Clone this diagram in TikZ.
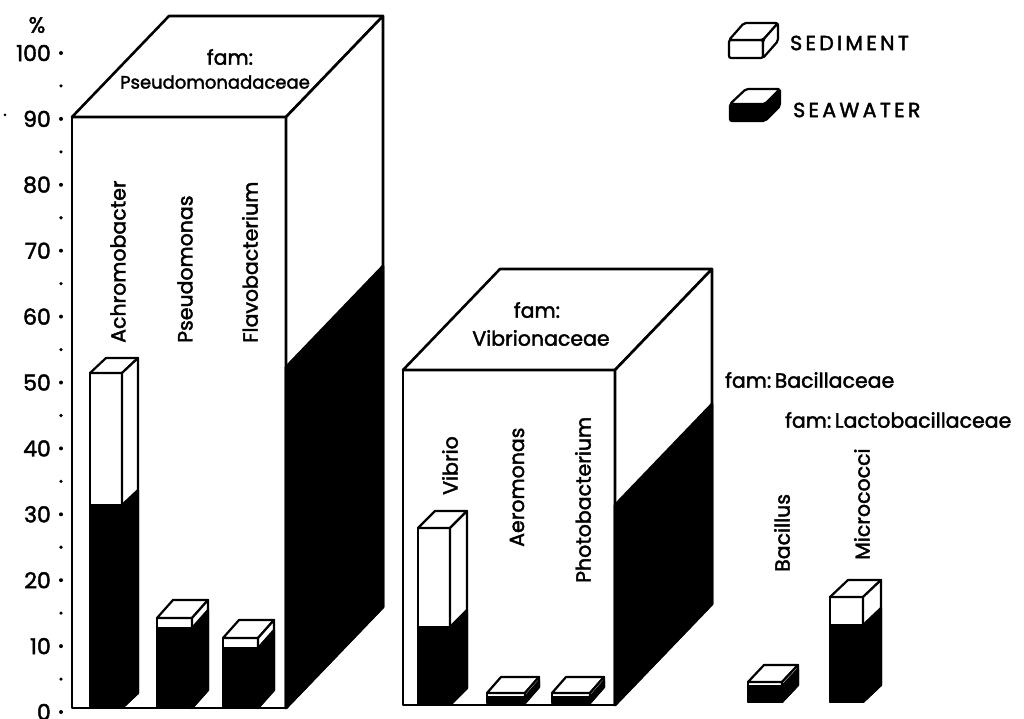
\documentclass[tikz,border=0pt]{standalone}
\usepackage{fontspec}
\setmainfont{Poppins}[FakeBold=2]
\newcommand\cbar[7]{% left,right,bottom,sedtop,seatop,dx,dy
  \filldraw[thinln,fill=white] (#1,#3) rectangle (#2,#4);
  \filldraw[thinln,fill=white] (#1,#4) -- ({#1+#6},{#4-#7}) -- ({#2+#6},{#4-#7}) -- (#2,#4) -- cycle;
  \filldraw[thinln,fill=white] (#2,#4) -- ({#2+#6},{#4-#7}) -- ({#2+#6},{#3-#7}) -- (#2,#3) -- cycle;
  \filldraw[thinln,fill=black] (#1,#3) rectangle (#2,#5);
  \filldraw[thinln,fill=black] (#2,#5) -- ({#2+#6},{#5-#7}) -- ({#2+#6},{#3-#7}) -- (#2,#3) -- cycle;
}
\newcommand\bigbox[7]{% left,right,bottom,top,seafront,dx,dy
  \filldraw[edgeln,fill=white] (#1,#3) rectangle (#2,#4);
  \filldraw[edgeln,fill=white] (#1,#4) -- ({#1+#6},{#4-#7}) -- ({#2+#6},{#4-#7}) -- (#2,#4) -- cycle;
  \filldraw[edgeln,fill=white] (#2,#4) -- ({#2+#6},{#4-#7}) -- ({#2+#6},{#3-#7}) -- (#2,#3) -- cycle;
  \filldraw[edgeln,fill=black] (#2,#5) -- ({#2+#6},{#5-#7}) -- ({#2+#6},{#3-#7}) -- (#2,#3) -- cycle;
}
\tikzset{
  lbl/.style={font=\fontsize{20.5}{24}\selectfont, inner sep=0pt},
  vlbl/.style={lbl, rotate=90, anchor=west},
  axl/.style={font=\fontsize{22}{26}\selectfont, inner sep=0pt, anchor=east},
  leg/.style={font=\fontsize{20.5}{24}\selectfont\addfontfeatures{LetterSpace=16}, inner sep=0pt, anchor=west},
  edgeln/.style={line width=2.6pt, line join=round},
  thinln/.style={line width=2.2pt, line join=round},
}
\begin{document}
\begin{tikzpicture}[x=1pt,y=-1pt]
\useasboundingbox (0,0) rectangle (1024,719);
% axis
\node[font=\fontsize{22}{26}\selectfont, inner sep=0pt] (pct) at (37,25) {\%};
\foreach \v in {0,10,...,100}{
  \node[axl] (ax\v) at (51,{712-6.59*\v}) {\v};
  \fill ({61},{712-6.59*\v}) circle (2pt);
}
\foreach \v in {5,15,...,95}{
  \fill (61,{712-6.59*\v}) circle (1.8pt);
}
\fill (5,115) circle (1.5pt);
% big boxes
\bigbox{72}{286}{708}{117}{367}{97}{101}
\bigbox{403}{615}{705}{370}{505}{97}{101}
% bars
\cbar{90}{122}{708}{373}{505}{16}{15}
\cbar{157}{192}{708}{618}{628}{16}{18}
\cbar{223}{258}{708}{638}{648}{16}{18}
\cbar{418}{450}{705}{528}{627}{17}{17}
\cbar{487}{525}{703}{693}{697}{14}{16}
\cbar{552}{590}{703}{693}{697}{14}{16}
\cbar{748}{782}{702}{682}{686}{16}{17}
\cbar{830}{863}{702}{597}{625}{18}{17}
% family labels
\node[lbl] (f1) at (230,57) {fam:};
\node[lbl,font=\fontsize{18}{22}\selectfont] (f1n) at (215,82) {Pseudomonadaceae};
\node[lbl] (f2) at (537,310) {fam:};
\node[lbl] (f2n) at (541,338) {Vibrionaceae};
\node[lbl,anchor=west] (f3) at (725,380) {fam:\,Bacillaceae};
\node[lbl,anchor=west] (f4) at (785,420) {fam:\,Lactobacillaceae};
% genus labels
\node[vlbl] (g1) at (118,343) {Achromobacter};
\node[vlbl] (g2) at (185,343) {Pseudomonas};
\node[vlbl] (g3) at (250,343) {Flavobacterium};
\node[vlbl] (g4) at (450,495) {Vibrio};
\node[vlbl] (g5) at (517,547) {Aeromonas};
\node[vlbl] (g6) at (583,583) {Photobacterium};
\node[vlbl] (g7) at (782,572) {Bacillus};
\node[vlbl] (g8) at (862,560) {Micrococci};
% legend
\filldraw[thinln,fill=white,rounded corners=2pt] (729,40) rectangle (763,58);
\filldraw[thinln,fill=white,rounded corners=2pt] (729,40) -- (744,23) -- (778,23) -- (763,40) -- cycle;
\filldraw[thinln,fill=white,rounded corners=2pt] (763,40) -- (778,23) -- (778,41) -- (763,58) -- cycle;
\filldraw[thinln,fill=black,rounded corners=2pt] (730,104) rectangle (765,121);
\filldraw[thinln,fill=black,rounded corners=2pt] (765,104) -- (780,89) -- (780,106) -- (765,121) -- cycle;
\filldraw[thinln,fill=white,rounded corners=2pt] (730,104) -- (746,89) -- (780,89) -- (765,104) -- cycle;
\node[leg] (ls) at (790,43) {SEDIMENT};
\node[leg] (lw) at (793,110) {SEAWATER};
\end{tikzpicture}
\end{document}
